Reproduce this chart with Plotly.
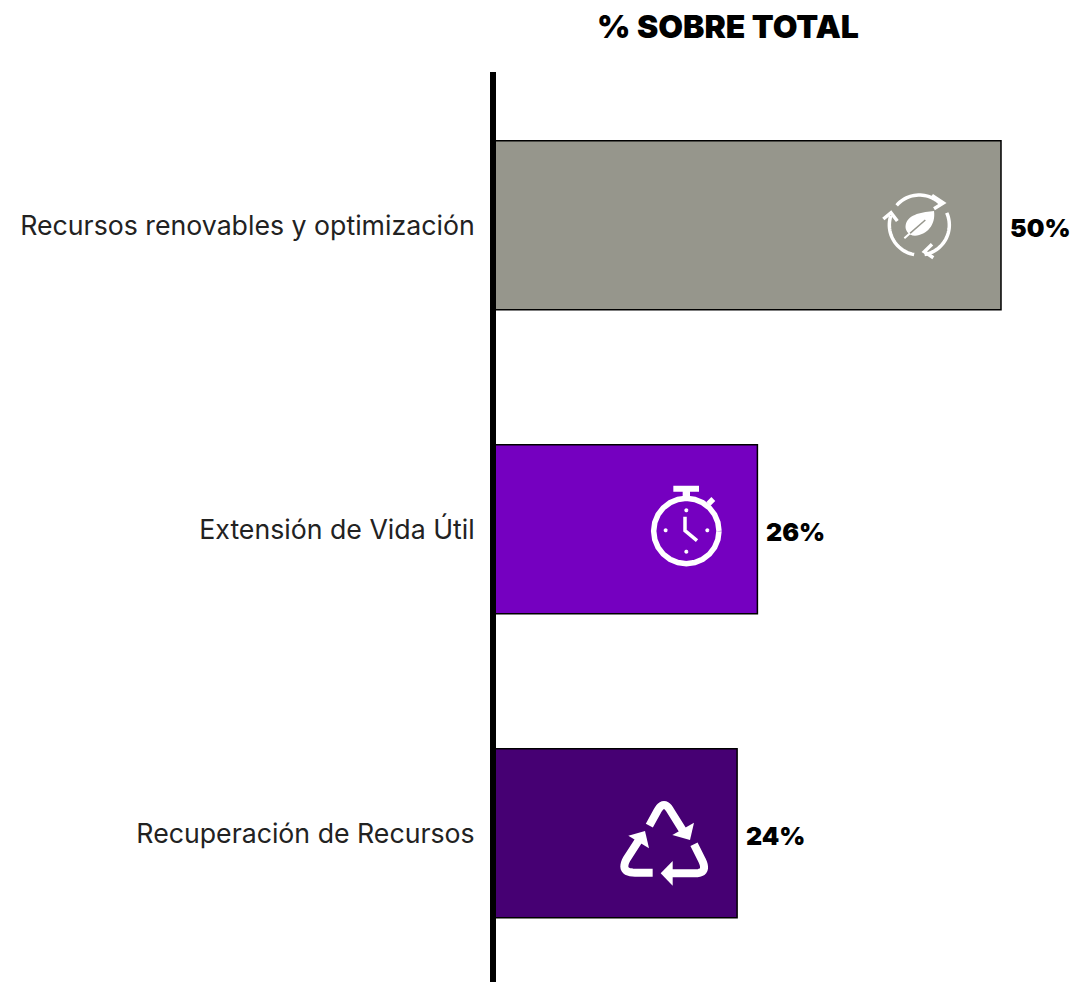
import math
import plotly.graph_objects as go

categories = ["Recursos renovables y optimización", "Extensión de Vida Útil", "Recuperación de Recursos"]
values = [50, 26, 24]
value_labels = ["50%", "26%", "24%"]
colors = ["#96968C", "#7500C0", "#460073"]
title_text = "% SOBRE TOTAL"

W, H = 1074, 982
PLOT_L, PLOT_T = 496, 72
SCALE = 10.15
CENTER0, STEP = 225.2, 304
x0_px = 493.5
WHITE = "#FFFFFF"


def icon_shapes(idx, items):
    ax = x0_px + values[idx] * SCALE
    ay = CENTER0 + idx * STEP
    out = []
    for pts_fn, fill, lw, lc in items:
        path = pts_fn(lambda px, py: f"{px - ax:.2f},{ay - py:.2f}")
        out.append(dict(type="path", xref="x", yref="y", xsizemode="pixel", ysizemode="pixel",
                        xanchor=values[idx], yanchor=idx, path=path,
                        fillcolor=fill if fill else "rgba(0,0,0,0)",
                        line=dict(color=lc, width=lw), layer="above"))
    return out


def zoomed(ox, oy, pts, close=False):
    def fn(t):
        s = "M" + " L".join(t(ox + x / 3, oy + y / 3) for x, y in pts)
        return s + (" Z" if close else "")
    return fn


def zoom_arc(ox, oy, cx, cy, r, a0, a1):
    n = 24
    pts = []
    for i in range(n + 1):
        a = math.radians(a0 + (a1 - a0) * i / n)
        pts.append((cx + r * math.cos(a), cy - r * math.sin(a)))
    return zoomed(ox, oy, pts)


def quad(p0, p1, p2, n=12):
    return [((1 - u) ** 2 * p0[0] + 2 * u * (1 - u) * p1[0] + u ** 2 * p2[0],
             (1 - u) ** 2 * p0[1] + 2 * u * (1 - u) * p1[1] + u ** 2 * p2[1])
            for u in (i / n for i in range(n + 1))]


def leaf_path(t):
    o = lambda x, y: t(860 + x / 3, 170 + y / 3)
    return ("M" + o(222, 123) + " C" + o(190, 127) + " " + o(145, 130) + " " + o(137, 165)
            + " C" + o(134, 180) + " " + o(145, 197) + " " + o(165, 197)
            + " C" + o(200, 195) + " " + o(228, 165) + " " + o(222, 123) + " Z")


LEAF_O = (860, 170)
leaf_items = [
    (zoom_arc(*LEAF_O, 178, 165, 90, 139, 45), None, 3.5, WHITE),
    (zoomed(*LEAF_O, [(216, 76), (250, 99), (222, 116)]), None, 3.5, WHITE),
    (zoom_arc(*LEAF_O, 178, 165, 90, 24, -80), None, 3.5, WHITE),
    (zoomed(*LEAF_O, [(216, 223), (193, 245), (220, 263)]), None, 3.5, WHITE),
    (zoom_arc(*LEAF_O, 178, 165, 90, 260, 162), None, 3.5, WHITE),
    (zoomed(*LEAF_O, [(70, 147), (93, 128), (112, 153)]), None, 3.5, WHITE),
    (leaf_path, WHITE, 0, WHITE),
    (zoomed(*LEAF_O, [(196, 150), (150, 190)]), None, 1.5, "#96968C"),
    (zoomed(*LEAF_O, [(150, 190), (133, 205)]), None, 2, WHITE),
]

CLOCK_O = (630, 470)
clock_items = [
    (zoom_arc(*CLOCK_O, 169, 183, 98, 0, 360), None, 5.5, WHITE),
    (zoomed(*CLOCK_O, [(130, 47), (207, 47), (207, 65), (180, 65), (180, 85), (158, 85), (158, 65), (130, 65)], True), WHITE, 0, WHITE),
    (zoomed(*CLOCK_O, [(235, 102), (250, 87)]), None, 5.5, WHITE),
    (zoomed(*CLOCK_O, [(165, 140), (165, 182), (201, 212)]), None, 3.5, WHITE),
]
for cx, cy in [(169, 121), (169, 245), (107, 181), (232, 181)]:
    clock_items.append((zoom_arc(*CLOCK_O, cx, cy, 3, 0, 360), WHITE, 2, WHITE))

REC_O = (600, 785)
recycle_items = [
    (zoomed(*REC_O, [(148, 122)] + quad((172, 78), (192, 42), (212, 78)) + [(252, 142)]), None, 8, WHITE),
    (zoomed(*REC_O, [(282, 113), (217, 150), (270, 165)], True), WHITE, 0, WHITE),
    (zoomed(*REC_O, [(282, 178)] + quad((303, 220), (328, 265), (285, 265)) + [(215, 265)]), None, 8, WHITE),
    (zoomed(*REC_O, [(218, 228), (182, 265), (218, 302)], True), WHITE, 0, WHITE),
    (zoomed(*REC_O, [(158, 263)] + quad((105, 263), (58, 263), (80, 222)) + [(120, 160)]), None, 8, WHITE),
    (zoomed(*REC_O, [(85, 152), (135, 138), (147, 190)], True), WHITE, 0, WHITE),
]

shapes = icon_shapes(0, leaf_items) + icon_shapes(1, clock_items) + icon_shapes(2, recycle_items)

fig = go.Figure(go.Bar(
    y=categories, x=values, orientation="h",
    width=0.556,
    marker=dict(color=colors, line=dict(color="#000000", width=1.5)),
    hoverinfo="skip",
))

annotations = [
    dict(x=v, y=c, text=l, xref="x", yref="y", showarrow=False, xanchor="left", yanchor="middle",
         xshift=7, yshift=-3, font=dict(family="Inter", size=25, color="#000000", weight=900))
    for c, v, l in zip(categories, values, value_labels)
]

fig.update_layout(
    width=W, height=H,
    margin=dict(l=PLOT_L, r=0, t=PLOT_T, b=0, pad=0),
    paper_bgcolor="#FFFFFF", plot_bgcolor="#FFFFFF",
    showlegend=False,
    title=dict(text=title_text, x=728 / W, xanchor="center", xref="container",
               y=1 - 27 / H, yanchor="middle", yref="container",
               font=dict(family="Inter", size=32, color="#000000", weight=900)),
    xaxis=dict(range=[(PLOT_L - x0_px) / SCALE, (W - x0_px) / SCALE], visible=False, fixedrange=True),
    yaxis=dict(type="category", categoryorder="array", categoryarray=categories,
               range=[(H - CENTER0) / STEP, (PLOT_T - CENTER0) / STEP],
               showline=True, linecolor="#000000", linewidth=6, ticks="", showgrid=False,
               zeroline=False, ticklabelstandoff=10,
               tickfont=dict(family="Inter", size=26.7, color="#222222"), fixedrange=True),
    shapes=shapes, annotations=annotations,
)

fig.write_html("out.html", config=dict(displayModeBar=False),
               post_script="document.body.style.margin='0';")
